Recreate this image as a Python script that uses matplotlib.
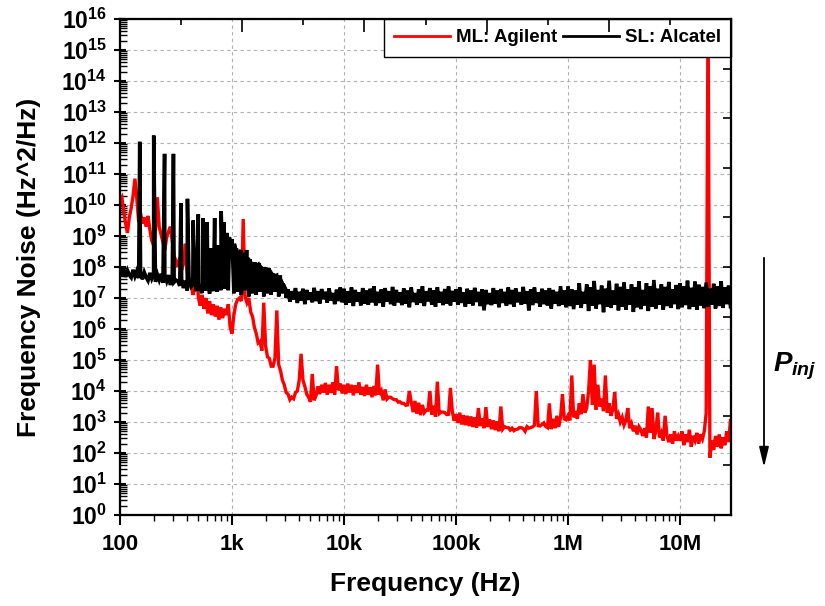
import numpy as np
import matplotlib
matplotlib.use("Agg")
import matplotlib.pyplot as plt
from matplotlib.ticker import FixedLocator, LogLocator, FuncFormatter, NullFormatter

plt.rcParams.update({
    "font.family": ["Liberation Sans", "DejaVu Sans"],
    "font.weight": "bold",
    "mathtext.fontset": "custom",
    "mathtext.rm": "Liberation Sans:bold",
    "mathtext.bf": "Liberation Sans:bold",
    "mathtext.it": "Liberation Sans:bold:italic",
    "axes.linewidth": 1.5,
    "path.simplify": False,
})

# ---------------------------------------------------------------------------
# Spectra: log10 of frequency noise (Hz^2/Hz), 60 bins per decade,
# one list per decade starting at the frequency given in DECADE_STARTS.
# ---------------------------------------------------------------------------
BINS_PER_DECADE = 60
DECADE_STARTS = [1e2, 1e3, 1e4, 1e5, 1e6, 1e7]

ml_100_1k = [10.15, 10.25, 9.80, 9.40, 9.10, 9.60, 9.90, 10.30, 10.85, 10.20,
             9.45, 9.75, 9.40, 9.60, 9.30, 9.65, 9.20, 8.85, 8.70, 9.20,
             10.25, 9.30, 9.05, 8.80, 8.55, 8.95, 9.15, 9.30, 8.85, 8.35,
             8.20, 8.00, 8.30, 7.90, 8.10, 8.75, 7.85, 7.50, 7.65, 7.10,
             7.30, 8.15, 7.00, 6.75, 7.10, 6.65, 7.00, 6.50, 6.90, 6.45,
             6.80, 6.40, 6.75, 6.30, 6.70, 6.35, 6.65, 6.45, 6.80, 6.05]
ml_1k_10k = [5.85, 6.45, 6.80, 6.95, 7.00, 6.90, 9.55, 7.05, 6.85, 7.00,
             6.55, 6.40, 6.05, 5.85, 5.55, 5.60, 5.30, 6.85, 5.45, 5.10,
             5.05, 4.80, 4.80, 5.05, 6.60, 4.85, 4.65, 4.35, 4.20, 3.95,
             3.90, 3.72, 3.80, 3.75, 3.95, 4.00, 4.35, 5.20, 4.35, 4.15,
             3.90, 3.80, 3.65, 4.55, 3.70, 3.85, 4.15, 3.90, 4.20, 3.95,
             4.26, 3.88, 4.20, 3.94, 4.28, 3.88, 4.80, 4.02, 4.24, 3.92]
ml_10k_100k = [4.20, 3.90, 4.24, 3.95, 4.20, 3.86, 4.18, 3.94, 4.28, 3.88,
               4.13, 3.84, 4.20, 3.88, 4.12, 3.80, 4.16, 3.86, 4.85, 3.88,
               4.00, 3.70, 4.05, 3.74, 3.80, 3.80, 3.75, 3.72, 3.72, 3.64,
               3.65, 3.60, 3.60, 3.54, 3.55, 4.00, 3.65, 3.32, 3.68, 3.27,
               3.62, 3.22, 3.55, 3.30, 3.38, 3.38, 4.00, 3.24, 3.52, 3.17,
               4.30, 3.27, 3.32, 3.32, 3.30, 3.24, 3.25, 4.10, 3.35, 3.04]
ml_100k_1M = [3.25, 2.97, 3.30, 2.92, 3.22, 2.90, 3.20, 2.87, 3.18, 2.84,
              3.15, 2.82, 3.45, 2.87, 3.12, 2.80, 3.48, 2.84, 3.08, 2.77,
              3.05, 2.74, 3.02, 2.70, 3.50, 2.77, 2.85, 2.82, 2.82, 2.74,
              2.80, 2.72, 2.76, 2.77, 2.82, 2.82, 2.78, 2.70, 2.85, 2.80,
              2.82, 2.84, 2.90, 4.00, 2.88, 2.87, 2.92, 2.97, 2.86, 2.82,
              3.60, 2.77, 3.10, 2.80, 3.20, 2.84, 3.15, 3.90, 3.10, 3.07]
ml_1M_10M = [3.20, 3.05, 4.50, 3.15, 3.35, 3.10, 3.60, 3.25, 3.90, 3.30,
             3.45, 4.00, 5.00, 3.55, 4.85, 3.40, 4.20, 3.50, 3.75, 3.35,
             4.50, 3.30, 3.60, 3.20, 3.40, 3.96, 3.10, 3.25, 3.00, 3.15,
             2.90, 3.05, 3.45, 2.80, 2.95, 2.70, 2.88, 2.60, 2.85, 2.75,
             2.55, 2.80, 2.50, 3.50, 2.65, 3.45, 2.45, 2.70, 3.30, 2.50,
             2.65, 2.40, 3.20, 2.55, 2.35, 2.60, 2.30, 2.70, 2.40, 2.55]
ml_10M_top = [2.40, 2.70, 2.25, 2.60, 2.35, 2.75, 2.20, 2.55, 2.40, 2.65,
              2.30, 2.60, 2.45, 2.70, 3.30, 16.5, 1.85, 2.40, 2.10, 2.55,
              2.20, 2.60, 2.15, 2.50, 2.25, 2.70, 2.35, 3.05]

sl_100_1k = [7.95, 7.72, 7.92, 7.68, 7.89, 7.74, 7.66, 7.91, 7.70, 7.87,
             7.64, 7.85, 7.60, 7.83, 7.67, 7.56, 7.81, 7.62, 7.77, 7.52,
             7.76, 7.58, 7.78, 7.49, 7.72, 7.54, 7.74, 7.42, 7.69, 7.51,
             7.58, 7.55, 7.39, 7.62, 7.32, 7.56, 7.24, 7.53, 7.36, 7.44,
             7.51, 7.22, 7.46, 7.28, 7.16, 7.44, 7.24, 7.54, 7.14, 7.60,
             7.22, 7.75, 7.20, 7.90, 7.25, 8.15, 7.30, 8.45, 7.25, 8.72]
sl_1k_10k = [8.80, 7.15, 8.55, 7.20, 8.45, 7.10, 8.30, 7.25, 8.20, 7.05,
             8.05, 7.15, 7.95, 7.10, 7.90, 7.20, 7.80, 7.05, 7.75, 7.15,
             7.70, 7.10, 7.62, 7.20, 7.55, 7.05, 7.48, 7.15, 7.32, 7.00,
             7.28, 6.88, 7.22, 6.95, 7.32, 6.84, 7.20, 6.92, 7.30, 6.80,
             7.26, 6.94, 7.18, 6.86, 7.33, 6.90, 7.22, 6.82, 7.29, 6.96,
             7.20, 6.85, 7.31, 6.92, 7.16, 6.80, 7.27, 6.90, 7.34, 6.86]
sl_10k_100k = [7.30, 6.78, 7.22, 6.85, 7.34, 6.74, 7.26, 6.88, 7.18, 6.76,
               7.32, 6.82, 7.24, 6.78, 7.30, 6.86, 7.38, 6.76, 7.20, 6.84,
               7.28, 6.72, 7.32, 6.88, 7.22, 6.80, 7.36, 6.75, 7.26, 6.86,
               7.18, 6.77, 7.31, 6.82, 7.24, 6.70, 7.34, 6.87, 7.16, 6.78,
               7.28, 6.84, 7.38, 6.74, 7.22, 6.89, 7.32, 6.79, 7.25, 6.72,
               7.35, 6.85, 7.20, 6.77, 7.29, 6.82, 7.37, 6.76, 7.23, 6.88]
sl_100k_1M = [7.28, 6.78, 7.34, 6.84, 7.18, 6.72, 7.30, 6.82, 7.24, 6.76,
              7.33, 6.87, 7.20, 6.74, 7.28, 6.60, 7.26, 6.80, 7.16, 6.77,
              7.32, 6.82, 7.24, 6.70, 7.29, 6.84, 7.20, 6.75, 7.34, 6.80,
              7.26, 6.72, 7.31, 6.86, 7.19, 6.78, 7.36, 6.82, 7.22, 6.60,
              7.28, 6.77, 7.34, 6.84, 7.18, 6.72, 7.30, 6.80, 7.24, 6.76,
              7.32, 6.66, 7.26, 6.82, 7.20, 6.74, 7.38, 6.78, 7.24, 6.70]
sl_1M_10M = [7.38, 6.74, 7.28, 6.64, 7.24, 6.78, 7.48, 6.68, 7.20, 6.82,
             7.44, 6.58, 7.34, 6.75, 7.55, 6.66, 7.26, 6.80, 7.40, 6.54,
             7.30, 6.72, 7.56, 6.68, 7.24, 6.78, 7.46, 6.60, 7.36, 6.72,
             7.50, 6.62, 7.28, 6.78, 7.44, 6.55, 7.34, 6.70, 7.54, 6.64,
             7.26, 6.76, 7.48, 6.58, 7.38, 6.72, 7.58, 6.66, 7.30, 6.78,
             7.44, 6.62, 7.36, 6.74, 7.52, 6.68, 7.28, 6.80, 7.42, 6.64]
sl_10M_top = [7.48, 6.70, 7.38, 6.77, 7.56, 6.64, 7.33, 6.72, 7.53, 6.62,
              7.43, 6.76, 7.36, 6.67, 7.50, 6.72, 7.30, 6.78, 7.46, 6.66,
              7.38, 6.74, 7.54, 6.68, 7.34, 6.80, 7.40, 6.72]

# Mains harmonics on the SL spectrum: frequency (Hz) and log10 peak level
sl_line_freqs = [150, 200, 250, 300, 350, 400, 450, 500, 550, 600,
                 650, 700, 750, 800, 850, 900, 950, 1000, 1050, 1100,
                 1150, 1200, 1250, 1300, 1350, 1400, 1450, 1500, 1550, 1600,
                 1650, 1700, 1750, 1800, 1850, 1900, 1950, 2000, 2050, 2100,
                 2150, 2200, 2250, 2300, 2350, 2400, 2450, 2500, 2550, 2600,
                 2650, 2700, 2750, 2800, 2850, 2900, 2950, 3000]
sl_line_levels = [12.04, 12.24, 11.65, 11.65, 10.06, 10.20, 9.50, 9.70, 9.58, 9.45,
                  8.60, 9.58, 8.70, 9.80, 9.45, 9.10, 8.95, 8.90, 8.75, 8.60,
                  8.45, 8.55, 8.40, 8.45, 8.55, 8.30, 8.25, 8.16, 8.10, 8.15,
                  8.00, 8.05, 8.13, 8.00, 7.95, 7.90, 8.00, 7.97, 7.90, 7.85,
                  7.95, 7.80, 7.80, 7.75, 7.78, 7.70, 7.70, 7.72, 7.65, 7.60,
                  7.68, 7.68, 7.55, 7.50, 7.45, 7.40, 7.35, 7.30]

x_tick_values = [1e2, 1e3, 1e4, 1e5, 1e6, 1e7]
x_tick_labels = ["100", "1k", "10k", "100k", "1M", "10M"]
series_labels = ["ML: Agilent", "SL: Alcatel"]


def spectrum(decades):
    freqs, levels = [], []
    for start, vals in zip(DECADE_STARTS, decades):
        freqs.append(start * 10 ** (np.arange(len(vals)) / BINS_PER_DECADE))
        levels.append(np.asarray(vals, dtype=float))
    return np.concatenate(freqs), np.concatenate(levels)


f_ml, lv_ml = spectrum([ml_100_1k, ml_1k_10k, ml_10k_100k,
                        ml_100k_1M, ml_1M_10M, ml_10M_top])
f_sl, lv_sl = spectrum([sl_100_1k, sl_1k_10k, sl_10k_100k,
                        sl_100k_1M, sl_1M_10M, sl_10M_top])

# merge the harmonic lines into the SL trace
f_sl = np.concatenate([f_sl, np.asarray(sl_line_freqs, dtype=float)])
lv_sl = np.concatenate([lv_sl, np.asarray(sl_line_levels)])
order = np.argsort(f_sl)
f_sl, lv_sl = f_sl[order], lv_sl[order]

W, H = 825, 606
fig = plt.figure(figsize=(W / 100, H / 100), dpi=100)
ax = fig.add_axes([120 / W, 91 / H, 611 / W, 496 / H])

ax.plot(f_ml, 10 ** lv_ml, color="#ff0000", lw=2.4, label=series_labels[0],
        zorder=2, solid_joinstyle="miter")
ax.plot(f_sl, 10 ** lv_sl, color="black", lw=2.6, label=series_labels[1],
        zorder=3, solid_joinstyle="miter")

ax.set_xscale("log")
ax.set_yscale("log")
ax.set_xlim(100, 2.85e7)
ax.set_ylim(1, 1e16)

ax.xaxis.set_major_locator(FixedLocator(x_tick_values))
ax.set_xticklabels(x_tick_labels)
ax.xaxis.set_minor_locator(LogLocator(base=10, subs=np.arange(2, 10), numticks=100))
ax.xaxis.set_minor_formatter(NullFormatter())

ax.yaxis.set_major_locator(FixedLocator([10.0 ** k for k in range(17)]))
ax.yaxis.set_major_formatter(FuncFormatter(
    lambda v, pos: r"$\mathbf{10^{%d}}$" % round(np.log10(v))))
ax.yaxis.set_minor_locator(LogLocator(base=10, subs=np.arange(2, 10), numticks=100))
ax.yaxis.set_minor_formatter(NullFormatter())

ax.tick_params(axis="y", which="major", direction="inout", length=9, width=1.5,
               labelsize=16.5, pad=5)
ax.tick_params(axis="y", which="minor", direction="in", length=5, width=1.0)
ax.tick_params(axis="x", which="major", direction="out", length=7, width=1.5,
               labelsize=16, pad=7)
ax.tick_params(axis="x", which="minor", direction="out", length=4, width=1.0)
ax.tick_params(top=False, right=False, which="both")

ax.set_axisbelow(True)
ax.grid(True, which="major", linestyle=(0, (3, 3)), color="#b0b0b0", lw=0.8)

ax.set_xlabel("Frequency (Hz)", fontsize=19, fontweight="bold", labelpad=12)
ax.set_ylabel("Frequency Noise (Hz^2/Hz)", fontsize=19, fontweight="bold", labelpad=15)

# plain tick marks on the top and right frame
axt = ax.twiny()
axt.set_xlim(0, 10)
axt.xaxis.set_major_locator(FixedLocator([0, 2, 4, 6, 8, 10]))
axt.xaxis.set_minor_locator(FixedLocator([1, 3, 5, 7, 9]))
axt.tick_params(axis="x", which="major", direction="in", length=9, width=1.2, labeltop=False)
axt.tick_params(axis="x", which="minor", direction="in", length=4, width=1.2)
axr = ax.twinx()
axr.set_ylim(0, 10)
axr.yaxis.set_major_locator(FixedLocator(list(range(11))))
axr.tick_params(axis="y", direction="in", length=6, width=1.2, labelright=False)
for a in (axt, axr):
    for s in a.spines.values():
        s.set_linewidth(1.5)

leg = ax.legend(loc="upper right", ncol=2, frameon=True, fancybox=False,
                edgecolor="black", framealpha=1, borderaxespad=0,
                prop={"weight": "bold", "size": 13.5}, handlelength=3.0,
                handletextpad=0.3, columnspacing=0.3, borderpad=0.55)
leg.get_frame().set_linewidth(1.0)
for h in leg.get_lines():
    h.set_linewidth(2)
leg.set_zorder(10)

# injected-power arrow beside the plot
fig.add_artist(matplotlib.patches.FancyArrowPatch(
    (764 / W, 1 - 255 / H), (764 / W, 1 - 470 / H), transform=fig.transFigure,
    arrowstyle="-|>,head_length=0.75,head_width=0.18", mutation_scale=16,
    lw=1.3, color="black"))
fig.text(773 / W, 1 - 366 / H, r"$P_{inj}$", fontsize=20, va="center", ha="left")

fig.savefig("out.png", dpi=100)
